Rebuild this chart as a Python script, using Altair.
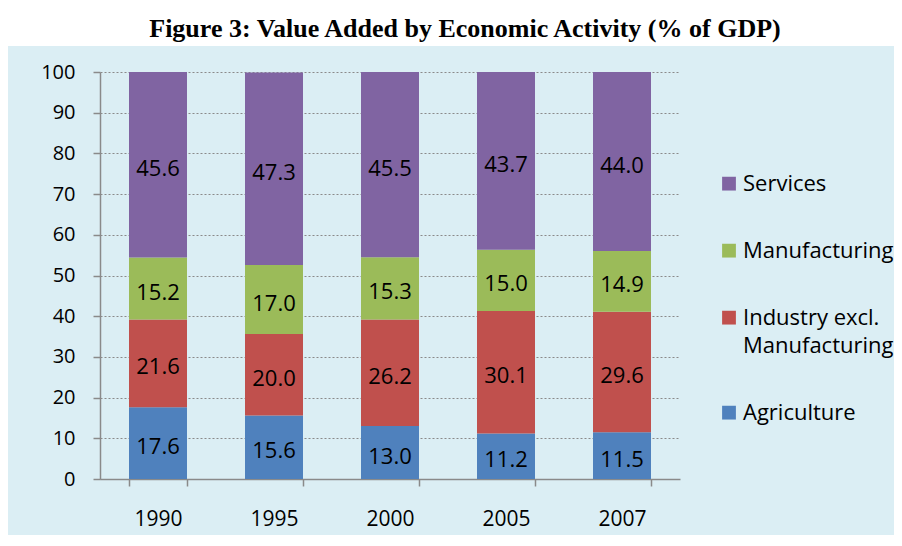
import altair as alt
import pandas as pd

years = ["1990", "1995", "2000", "2005", "2007"]
sectors = ["Agriculture", "Industry excl. Manufacturing", "Manufacturing", "Services"]
agriculture = [17.6, 15.6, 13.0, 11.2, 11.5]
industry = [21.6, 20.0, 26.2, 30.1, 29.6]
manufacturing = [15.2, 17.0, 15.3, 15.0, 14.9]
services = [45.6, 47.3, 45.5, 43.7, 44.0]
colors = ["#4F81BD", "#C0504D", "#9BBB59", "#8064A2"]
y_ticks = [0, 10, 20, 30, 40, 50, 60, 70, 80, 90, 100]

series = [agriculture, industry, manufacturing, services]
rows = []
for i, yr in enumerate(years):
    for k, s in enumerate(sectors):
        rows.append({"year": yr, "sector": s, "value": series[k][i], "order": k})
df = pd.DataFrame(rows)

legend_order = sectors[::-1]
legend_colors = colors[::-1]

FONT = "Open Sans"

base = alt.Chart(df).transform_stack(
    stack="value", groupby=["year"], as_=["v0", "v1"],
    sort=[alt.SortField("order", order="ascending")]
).transform_calculate(mid="(datum.v0 + datum.v1) / 2")

xenc = alt.X("year:N", sort=years,
             scale=alt.Scale(paddingInner=0.5, paddingOuter=0.25),
             axis=alt.Axis(title=None, labelAngle=0, tickBand="extent", tickSize=7,
                           labelPadding=22, labelFontSize=21,
                           domainColor="#8A8A8A", tickColor="#8A8A8A",
                           domainWidth=1.5, tickWidth=1.5, grid=False))

bars = base.mark_bar().encode(
    x=xenc,
    y=alt.Y("v0:Q", scale=alt.Scale(domain=[0, 100], nice=False),
            axis=alt.Axis(title=None, values=y_ticks, grid=True, gridDash=[2, 2],
                          gridColor="#8A8A8A", gridWidth=1, tickSize=7,
                          labelFontSize=20,
                          domainColor="#8A8A8A", tickColor="#8A8A8A",
                          domainWidth=1.5, tickWidth=1.5, labelPadding=18)),
    y2="v1:Q",
    color=alt.Color("sector:N",
                    scale=alt.Scale(domain=legend_order, range=legend_colors),
                    legend=alt.Legend(title=None, orient="none", legendX=618, legendY=91,
                                      symbolType="M-1,0.4H1V2.4H-1Z", symbolSize=190,
                                      symbolStrokeWidth=0, labelFont=FONT,
                                      labelFontSize=22, labelColor="black",
                                      labelBaseline="top",
                                      labelLimit=400, labelOffset=3, rowPadding=35,
                                      labelExpr="datum.label == 'Industry excl. Manufacturing' ? ['Industry excl.', 'Manufacturing'] : datum.label")),
    order=alt.Order("order:Q"),
)

labels = base.mark_text(font=FONT, fontSize=22, color="black", baseline="middle", dy=4).encode(
    x=alt.X("year:N", sort=years),
    y=alt.Y("mid:Q"),
    text=alt.Text("value:Q", format=".1f"),
)

white = alt.Chart(pd.DataFrame({"k": [0]})).mark_rect(color="white").encode(
    x=alt.value(-120), x2=alt.value(820), y=alt.value(-90), y2=alt.value(-26)
)

chart = alt.layer(white, bars, labels).properties(
    width=580, height=407,
    title=alt.TitleParams(
        text="Figure 3: Value Added by Economic Activity (% of GDP)",
        font="Liberation Serif", fontSize=26, fontWeight="bold", color="black",
        anchor="middle", frame="group", dx=75, offset=-60, zindex=1),
    autosize=alt.AutoSizeParams(type="none"),
    padding={"left": 92, "top": 64, "right": 214, "bottom": 56},
    background="#DBEEF4",
).configure(
    style={"guide-label": {"lineHeight": 28}}
).configure_view(stroke=None).configure_axis(
    labelFont=FONT, labelColor="black"
)

chart.save("out.html", embed_options={"renderer": "svg", "actions": False})
